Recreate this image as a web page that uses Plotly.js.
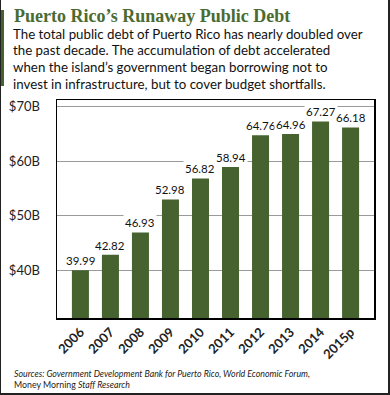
<!DOCTYPE html>
<html>
<head>
<meta charset="utf-8">
<script src="https://cdn.plot.ly/plotly-3.0.1.min.js"></script>
<style>
html,body{margin:0;padding:0;background:#fff;}
#chart{width:390px;height:395px;}
</style>
</head>
<body>
<div id="chart"></div>
<script>
const years = ["2006","2007","2008","2009","2010","2011","2012","2013","2014","2015p"];
const debt = [39.99, 42.82, 46.93, 52.98, 56.82, 58.94, 64.76, 64.96, 67.27, 66.18];
const yTickVals = [40, 50, 60, 70];
const yTickText = ["$40B", "$50B", "$60B", "$70B"];
const titleText = "Puerto Rico\u2019s Runaway Public Debt";
const subtitleLines = [
  "The total public debt of Puerto Rico has nearly doubled over",
  "the past decade. The accumulation of debt accelerated",
  "when the island\u2019s government began borrowing not to",
  "invest in infrastructure, but to cover budget shortfalls."
];
const sourceLines = [
  "<i>Sources: Government Development Bank for Puerto Rico, World Economic Forum,</i>",
  "Money Morning <i>Staff Research</i>"
];

const W = 390, H = 395;
const M = {l: 57, r: 16, t: 100, b: 77};
const pw = W - M.l - M.r, ph = H - M.t - M.b;
const px = x => (x - M.l) / pw;
const py = y => (H - M.b - y) / ph;

const green = "#46632f";
const font = "Lato, 'Open Sans', sans-serif";

const labelAnn = years.map((yr, i) => ({
  x: i, y: debt[i], xref: "x", yref: "y",
  text: debt[i].toFixed(2), showarrow: false,
  yanchor: "bottom", yshift: 1,
  font: {family: font, size: 11.5, color: "#111"},
  bgcolor: "#fff", borderpad: 1
}));

const subAnn = subtitleLines.map((t, i) => ({
  xref: "paper", yref: "paper", x: px(11), y: py(34 + i * 16.5),
  xanchor: "left", yanchor: "middle", text: t, showarrow: false, align: "left",
  font: {family: font, size: 13.3, color: "#111"}
}));

const srcAnn = sourceLines.map((t, i) => ({
  xref: "paper", yref: "paper", x: px(12), y: py(373 + i * 11),
  xanchor: "left", yanchor: "middle", text: t, showarrow: false, align: "left",
  font: {family: font, size: 8.8, color: "#222"}
}));

const data = [{
  type: "bar", x: years, y: debt,
  marker: {color: green},
  hoverinfo: "x+y"
}];

const layout = {
  width: W, height: H,
  margin: M,
  paper_bgcolor: "#fff", plot_bgcolor: "#fff",
  showlegend: false,
  bargap: 0.433,
  xaxis: {
    type: "category", range: [-0.78, 9.78],
    showline: true, linecolor: "#000", linewidth: 1.5, mirror: true,
    showgrid: false, ticks: "", tickangle: -45,
    tickfont: {family: font, size: 13, color: "#222", weight: "bold"},
    fixedrange: true
  },
  yaxis: {
    range: [31.25, 71.2],
    tickvals: yTickVals, ticktext: yTickText,
    showline: true, linecolor: "#000", linewidth: 1.5, mirror: true,
    showgrid: true, gridcolor: "#9a9a9a", gridwidth: 1,
    zeroline: false, ticks: "", ticklabelstandoff: 13,
    tickfont: {family: font, size: 13, color: "#222"},
    fixedrange: true
  },
  shapes: [
    {type: "rect", xref: "paper", yref: "paper", x0: px(0), x1: px(1), y0: py(0), y1: py(H), fillcolor: "#222", line: {width: 0}},
    {type: "rect", xref: "paper", yref: "paper", x0: px(W - 2), x1: px(W), y0: py(0), y1: py(H), fillcolor: "#222", line: {width: 0}},
    {type: "rect", xref: "paper", yref: "paper", x0: px(0), x1: px(W), y0: py(H - 2), y1: py(H), fillcolor: "#222", line: {width: 0}},
    {type: "rect", xref: "paper", yref: "paper", x0: px(1), x1: px(4), y0: py(10), y1: py(86), fillcolor: green, line: {width: 0}}
  ],
  annotations: [
    {xref: "paper", yref: "paper", x: px(12), y: py(16), xanchor: "left", yanchor: "middle",
     text: "<b>" + titleText + "</b>", showarrow: false, align: "left",
     font: {family: "'Liberation Serif', 'DejaVu Serif', serif", size: 18, color: "#4b6b31"}},
    ...subAnn,
    ...srcAnn,
    ...labelAnn
  ]
};

Plotly.newPlot("chart", data, layout, {displayModeBar: false, staticPlot: true});
</script>
</body>
</html>
